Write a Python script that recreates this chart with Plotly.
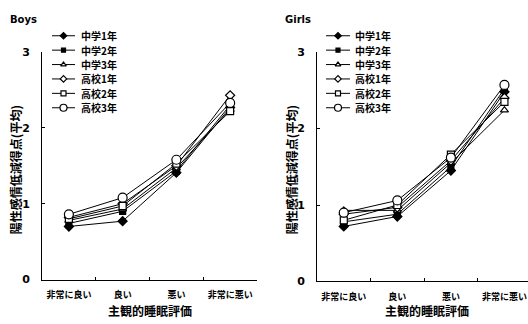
import plotly.graph_objects as go

# Subjective sleep rating categories (x axis)
categories = ["非常に良い", "良い", "悪い", "非常に悪い"]

# School grade groups
grades = ["中学1年", "中学2年", "中学3年", "高校1年", "高校2年", "高校3年"]

# Mean positive-affect reduction score, boys
boys_c1 = [0.70, 0.77, 1.41, 2.27]
boys_c2 = [0.74, 0.90, 1.43, 2.30]
boys_c3 = [0.78, 0.93, 1.47, 2.24]
boys_h1 = [0.82, 1.00, 1.50, 2.43]
boys_h2 = [0.80, 0.97, 1.53, 2.22]
boys_h3 = [0.86, 1.08, 1.58, 2.33]

# Mean positive-affect reduction score, girls
girls_c1 = [0.72, 0.85, 1.45, 2.48]
girls_c2 = [0.78, 0.88, 1.50, 2.52]
girls_c3 = [0.93, 0.93, 1.55, 2.24]
girls_h1 = [0.88, 0.97, 1.58, 2.40]
girls_h2 = [0.80, 1.00, 1.66, 2.35]
girls_h3 = [0.90, 1.06, 1.62, 2.57]

y_ticks = [0, 1, 2, 3]

boys = [boys_c1, boys_c2, boys_c3, boys_h1, boys_h2, boys_h3]
girls = [girls_c1, girls_c2, girls_c3, girls_h1, girls_h2, girls_h3]

# marker symbol, size, fill for each grade
styles = [
    ("diamond", 7, "black"),
    ("square", 6, "black"),
    ("triangle-up", 7, "white"),
    ("diamond", 7, "white"),
    ("square", 7, "white"),
    ("circle", 9, "white"),
]

W, H = 528, 324
FONT = "Noto Sans CJK JP"

fig = go.Figure()


def add_panel(series, xa, ya):
    for name, vals, (sym, size, fill) in zip(grades, series, styles):
        fig.add_trace(go.Scatter(
            x=categories, y=vals, name=name, xaxis=xa, yaxis=ya,
            mode="lines+markers", showlegend=False,
            line=dict(color="black", width=1),
            marker=dict(symbol=sym, size=size, color=fill,
                        line=dict(color="black", width=1.2)),
        ))


add_panel(boys, "x", "y")
add_panel(girls, "x2", "y2")

# Hand-drawn legend keys on a pixel-based overlay axis
legend_rows = [31 + 15 * i for i in range(len(grades))]
legend_cols = [(52, 75, 79), (326, 350, 353)]
for (x0, x1, xt) in legend_cols:
    for name, row, (sym, size, fill) in zip(grades, legend_rows, styles):
        fig.add_trace(go.Scatter(
            x=[x0, x1], y=[row, row], xaxis="x3", yaxis="y3",
            mode="lines", showlegend=False, hoverinfo="skip",
            line=dict(color="black", width=1),
        ))
        fig.add_trace(go.Scatter(
            x=[(x0 + x1) / 2], y=[row], xaxis="x3", yaxis="y3",
            mode="markers", showlegend=False, hoverinfo="skip",
            marker=dict(symbol=sym, size=size - 2, color=fill,
                        line=dict(color="black", width=1.2)),
        ))
        fig.add_annotation(
            x=xt, y=row, xref="x3", yref="y3", text="<b>" + name + "</b>",
            showarrow=False, xanchor="left", yanchor="middle",
            font=dict(family=FONT, size=10, color="black"),
        )

xaxis_common = dict(
    type="category", categoryorder="array", categoryarray=categories,
    tickson="boundaries", ticks="inside", ticklen=3, tickcolor="black",
    showline=True, linecolor="black", linewidth=1, showgrid=False,
    zeroline=False, tickangle=0,
    tickfont=dict(family=FONT, size=9, color="black"),
    ticklabelstandoff=7,
)
yaxis_common = dict(
    range=[0, 3], tickvals=y_ticks, ticks="inside", ticklen=3,
    tickcolor="black", showline=True, linecolor="black", linewidth=1,
    showgrid=False, zeroline=False,
    tickfont=dict(family="DejaVu Sans", size=11, color="black", weight="bold"),
    ticklabelstandoff=9,
)

fig.update_layout(
    width=W, height=H,
    margin=dict(l=0, r=0, t=0, b=0),
    paper_bgcolor="white", plot_bgcolor="rgba(0,0,0,0)",
    xaxis=dict(domain=[42 / W, 257 / W], anchor="y", range=[-0.5, 3.5],
               ticktext=["<b>" + c + "</b>" for c in categories],
               tickvals=categories, **xaxis_common),
    yaxis=dict(domain=[39 / H, 276 / H], anchor="x", **yaxis_common),
    xaxis2=dict(domain=[317 / W, 1.0], anchor="y2", range=[-0.5, 3.44],
                ticktext=["<b>" + c + "</b>" for c in categories],
                tickvals=categories, **xaxis_common),
    yaxis2=dict(domain=[37 / H, 276 / H], anchor="x2", **yaxis_common),
    xaxis3=dict(domain=[0, 1], range=[0, W], visible=False, fixedrange=True),
    yaxis3=dict(domain=[0, 1], range=[H, 0], visible=False, fixedrange=True,
                anchor="x3"),
    showlegend=False,
)

# Panel titles
for txt, x in [("Boys", 8), ("Girls", 283)]:
    fig.add_annotation(x=x, y=14, xref="x3", yref="y3", text="<b>" + txt + "</b>",
                       showarrow=False, xanchor="left", yanchor="middle",
                       font=dict(family="DejaVu Sans", size=10, color="black"))

# Axis titles
for xc, xt in [(15, 150), (291, 427)]:
    fig.add_annotation(x=xc, y=171, xref="x3", yref="y3",
                       text="<b>陽性感情低減得点(平均)</b>", textangle=-90,
                       showarrow=False, xanchor="center", yanchor="middle",
                       font=dict(family=FONT, size=12, color="black"))
    fig.add_annotation(x=xt, y=317, xref="x3", yref="y3",
                       text="<b>主観的睡眠評価</b>",
                       showarrow=False, xanchor="center", yanchor="middle",
                       font=dict(family=FONT, size=12, color="black"))

fig.write_html("out.html")
